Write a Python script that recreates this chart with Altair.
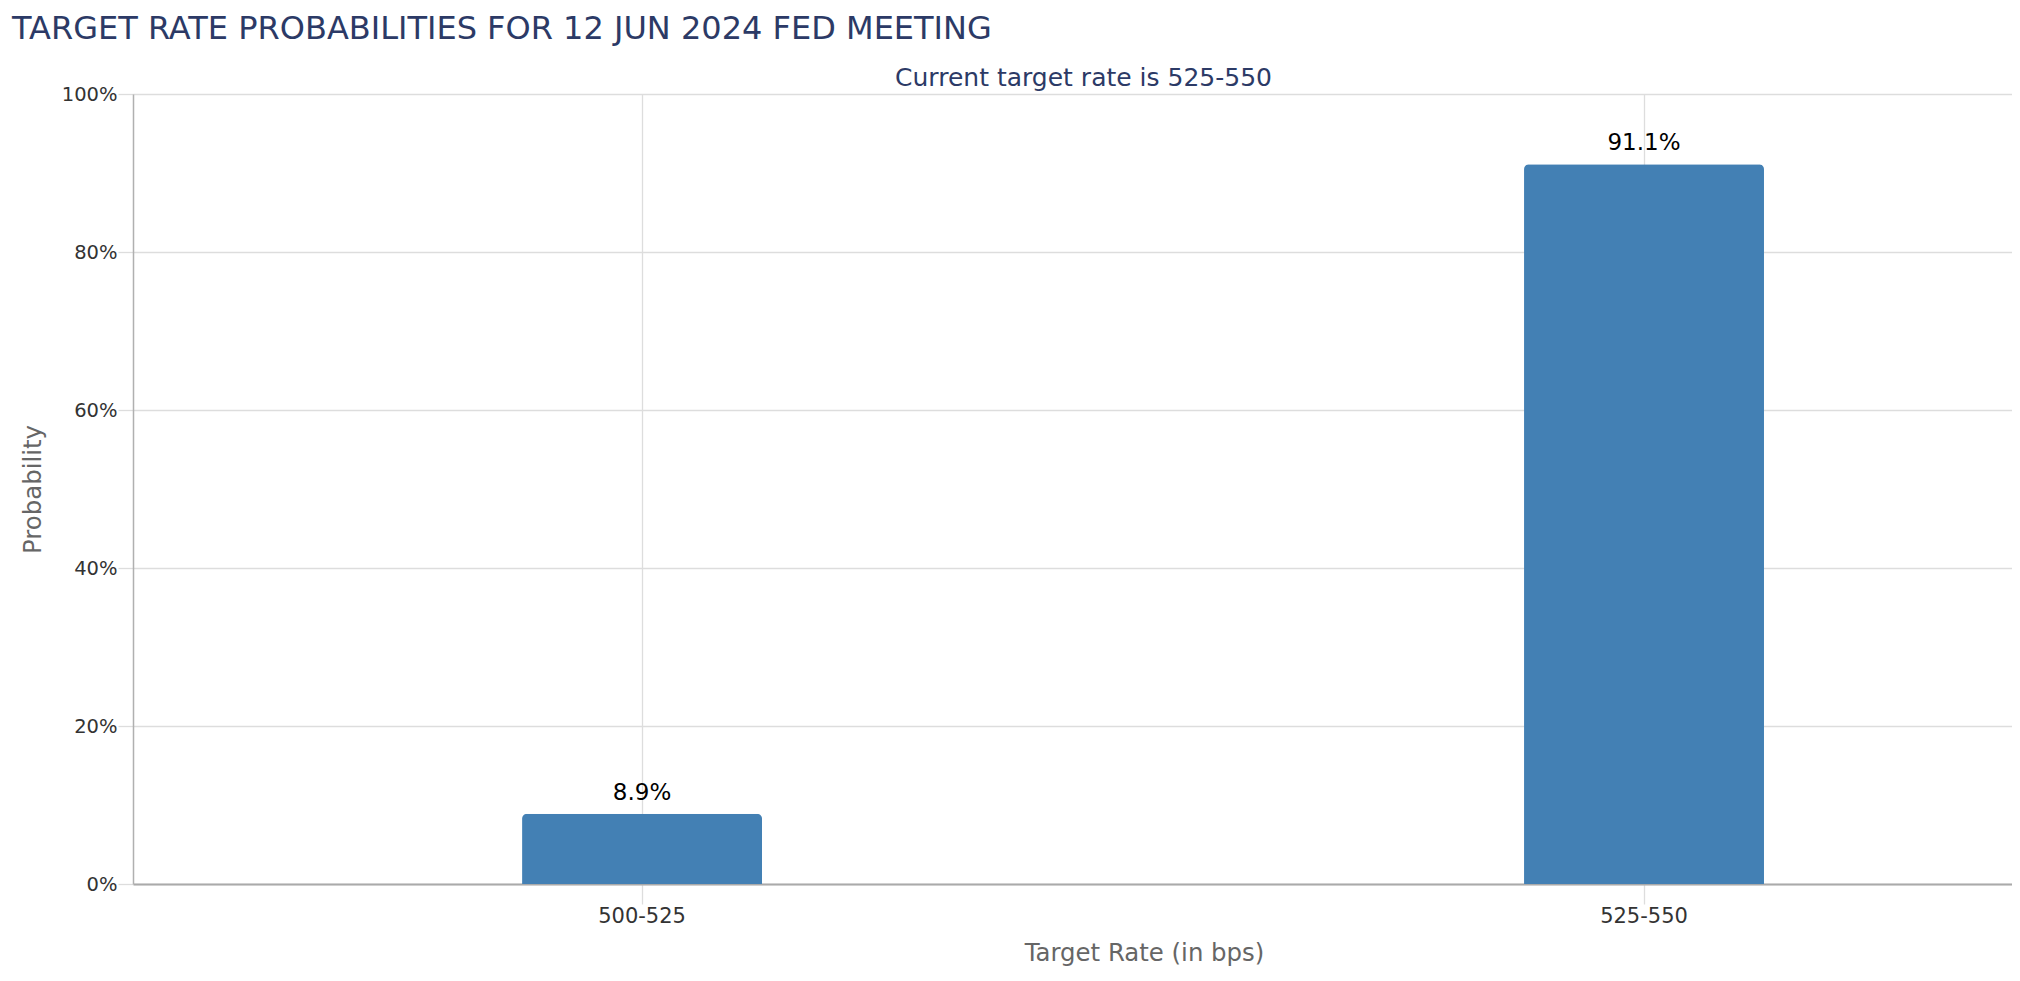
import altair as alt
import pandas as pd

# ---- data ----
rates = ["500-525", "525-550"]
probabilities = [8.9, 91.1]
prob_labels = ["8.9%", "91.1%"]
y_ticks = [0, 20, 40, 60, 80, 100]

title_text = "TARGET RATE PROBABILITIES FOR 12 JUN 2024 FED MEETING"
subtitle_text = "Current target rate is 525-550"
x_title = "Target Rate (in bps)"
y_title = "Probability"

df = pd.DataFrame({"rate": rates, "prob": probabilities, "label": prob_labels})

FONT = "DejaVu Sans"
NAVY = "#2c3a66"
PLOT_W = 1879
PLOT_H = 790

xscale = alt.Scale(domain=rates, paddingInner=0.7605, paddingOuter=0.3179, align=0.6107)
yscale = alt.Scale(domain=[0, 100], nice=False)

y_axis = alt.Axis(
    values=y_ticks, labelExpr="datum.value + '%'", title=y_title,
    grid=True, gridColor="#dddddd", gridWidth=1.3,
    domainColor="#b0b0b0", domainWidth=1.5,
    tickColor="#dddddd", tickWidth=1.3, tickSize=15,
    labelPadding=1, labelFont=FONT, labelFontSize=19.5, labelColor="#333333",
    labelBaseline="middle",
    titleFont=FONT, titleFontSize=24.4, titleFontWeight="normal", titleColor="#666666",
    titleX=-93, titleY=PLOT_H / 2, titleAngle=270, titleAlign="center",
    titleBaseline="alphabetic",
)

x_axis_bottom = alt.Axis(
    orient="bottom", title=x_title,
    grid=True, gridColor="#dddddd", gridWidth=1.3, bandPosition=0.5,
    domainColor="#aaaaaa", domainWidth=2,
    tickColor="#dddddd", tickWidth=1.3, tickSize=20,
    labelPadding=18, labelBaseline="alphabetic", labelAngle=0,
    labelFont=FONT, labelFontSize=21, labelColor="#333333",
    titleFont=FONT, titleFontSize=24.4, titleFontWeight="normal", titleColor="#666666",
    titleX=1011, titleY=76, titleAlign="center", titleBaseline="alphabetic",
    titleAngle=0,
)

x_axis_top = alt.Axis(
    orient="top", title=subtitle_text,
    labels=False, ticks=False, domain=False, grid=False,
    titleFont=FONT, titleFontSize=25, titleFontWeight="normal", titleColor=NAVY,
    titleX=950, titleY=-9, titleAlign="center", titleBaseline="alphabetic",
    titleAngle=0,
)

base = alt.Chart(df)

bars = base.mark_bar(
    color="#4380b4", cornerRadiusTopLeft=5, cornerRadiusTopRight=5
).encode(
    x=alt.X("rate:N", sort=rates, scale=xscale, axis=x_axis_bottom),
    y=alt.Y("prob:Q", scale=yscale, axis=y_axis),
)

texts = base.mark_text(
    font=FONT, fontSize=23, color="#000000", baseline="alphabetic", dy=-14
).encode(
    x=alt.X("rate:N", sort=rates, scale=xscale, axis=x_axis_top),
    y=alt.Y("prob:Q", scale=yscale, axis=y_axis),
    text="label:N",
)

chart = alt.layer(bars, texts).properties(
    width=PLOT_W,
    height=PLOT_H,
    title=alt.TitleParams(
        title_text, anchor="start", frame="group", font=FONT, fontSize=32,
        fontWeight="normal", color=NAVY, dx=-121, dy=-19, offset=0,
    ),
    autosize=alt.AutoSizeParams(type="none"),
    padding={"left": 125, "top": 86, "right": 0, "bottom": 92},
).configure_view(stroke=None).configure(background="white")

chart.save("out.html", embed_options={"renderer": "svg", "actions": False})
